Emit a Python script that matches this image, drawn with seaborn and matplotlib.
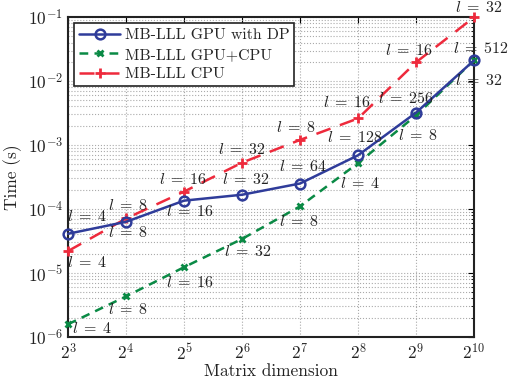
import seaborn as sns
import matplotlib
matplotlib.use('Agg')
import matplotlib.pyplot as plt
import pandas as pd
import numpy as np

# matrix dimension (powers of two)
dims = [8, 16, 32, 64, 128, 256, 512, 1024]

# time in seconds
t_gpu_dp = [4.1e-5, 6.3e-5, 1.35e-4, 1.67e-4, 2.5e-4, 6.9e-4, 3.2e-3, 2.1e-2]
t_gpu_cpu = [1.58e-6, 4.3e-6, 1.23e-5, 3.4e-5, 1.1e-4, 5.2e-4, 2.9e-3, 2.1e-2]
t_cpu = [2.2e-5, 7.1e-5, 1.87e-4, 5.3e-4, 1.2e-3, 2.6e-3, 1.96e-2, 9.9e-2]

# block size labels l
l_gpu_dp = [4, 8, 16, 32, 64, 128, 256, 512]
l_gpu_cpu = [4, 8, 16, 32, 8, 4, 8, 32]
l_cpu = [4, 8, 16, 32, 8, 16, 16, 32]

names = ['MB-LLL GPU with DP', 'MB-LLL GPU+CPU', 'MB-LLL CPU']

# label offsets in pixels (dx, dy) relative to each point
off_gpu_dp = [(19, 17), (2, -11), (6, -11), (4, 15), (3, 17), (-3, 18), (-10, 14), (7, 12)]
off_gpu_cpu = [(24, -4), (2, -13), (6, -15), (6, -13), (-1, -15), (2, -20), (2, -20), (5, -20)]
off_cpu = [(19, -11), (2, 13), (-1, 12), (0, 13), (-4, 12), (-11, 16), (-7, 12), (5, 10)]

sns.set_theme(style='white')
plt.rcParams['font.family'] = ['cmr10', 'DejaVu Serif']
plt.rcParams['mathtext.fontset'] = 'cm'
plt.rcParams['axes.formatter.use_mathtext'] = True
plt.rcParams['font.size'] = 11

fig = plt.figure(figsize=(5.08, 3.79), dpi=100)
ax = fig.add_axes([0.134, 0.111, 0.799, 0.844])

blue = '#2f3c9a'
green = '#0a8a45'
red = '#ee2a3c'

sns.lineplot(x=dims, y=t_gpu_dp, ax=ax, color=blue, lw=1.8, marker='o', ms=7,
             markerfacecolor='none', markeredgewidth=1.8, markeredgecolor=blue,
             label=names[0], clip_on=False, zorder=5)
sns.lineplot(x=dims, y=t_gpu_cpu, ax=ax, color=green, lw=1.8, marker='x', ms=4,
             markeredgewidth=2, markeredgecolor=green, dashes=(3.5, 2.5),
             label=names[1], clip_on=False, zorder=4)
sns.lineplot(x=dims, y=t_cpu, ax=ax, color=red, lw=1.8, marker='+', ms=7,
             markeredgewidth=2, markeredgecolor=red, dashes=(6, 4),
             label=names[2], clip_on=False, zorder=3)

for ys, ls, offs in [(t_gpu_dp, l_gpu_dp, off_gpu_dp),
                     (t_gpu_cpu, l_gpu_cpu, off_gpu_cpu),
                     (t_cpu, l_cpu, off_cpu)]:
    for x, y, l, (dx, dy) in zip(dims, ys, ls, offs):
        ax.annotate(rf'$l\;=\;{l}$', (x, y), xytext=(dx, dy), textcoords='offset pixels',
                    ha='center', va='center', fontsize=11.5, color='#222222',
                    annotation_clip=False, zorder=6)

ax.set_xscale('log', base=2)
ax.set_yscale('log')
ax.set_xlim(8, 1024)
ax.set_ylim(1e-6, 1e-1)
ax.set_xticks(dims)
ax.xaxis.set_minor_locator(matplotlib.ticker.NullLocator())
ax.yaxis.set_major_locator(matplotlib.ticker.LogLocator(base=10, numticks=10))
ax.yaxis.set_minor_locator(matplotlib.ticker.LogLocator(base=10, subs=np.arange(2, 10), numticks=20))

ax.grid(True, which='major', ls=':', color='#aaaaaa', lw=0.8)
ax.grid(True, which='minor', axis='y', ls=':', color='#aaaaaa', lw=0.8)
ax.tick_params(which='both', direction='in', top=True, right=True, colors='black',
               labelsize=12.5, labelcolor='#222222')
ax.tick_params(which='major', length=4, width=0.8)
ax.tick_params(which='minor', length=2, width=0.6)
for s in ax.spines.values():
    s.set_color('#222222')
    s.set_linewidth(1.5)

ax.set_xlabel('Matrix dimension', fontsize=12.5, color='#222222', labelpad=1)
ax.set_ylabel('Time (s)', fontsize=12.5, color='#222222', labelpad=4)

leg = ax.legend(loc='upper left', fancybox=False, edgecolor='#222222', framealpha=1,
                fontsize=11.4, handlelength=2.6, borderaxespad=0.4, labelspacing=0.35,
                borderpad=0.3, handletextpad=0.3)
leg.get_frame().set_linewidth(1.2)

fig.savefig('out.png', dpi=100)
